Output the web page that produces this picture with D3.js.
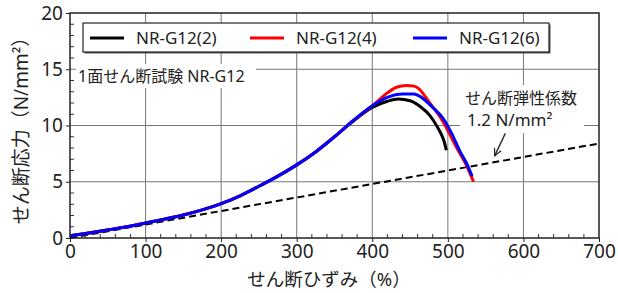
<!DOCTYPE html>
<html><head><meta charset="utf-8">
<script src="https://cdn.jsdelivr.net/npm/d3@7"></script>
<style>
html,body{margin:0;padding:0;background:#fff;}
svg{display:block;font-family:"Noto Sans","Noto Sans CJK JP",sans-serif;}
</style></head>
<body><svg id="c" width="618" height="293"></svg>
<script>
// ---- data ----
const seriesNames = ["NR-G12(2)", "NR-G12(4)", "NR-G12(6)"];
const seriesColors = ["#000000", "#ff0000", "#0000ff"];
const strain2 = [0,25,50,75,100,125,150,175,200,225,250,275,300,325,350,375,400,420,434,450,465,476,485,490,495,498];
const stress2 = [0.2,0.45,0.72,1.0,1.33,1.68,2.05,2.5,3.05,3.75,4.6,5.5,6.5,7.65,9.0,10.4,11.6,12.15,12.35,12.2,11.6,10.9,10.0,9.4,8.6,7.8];
const strain4 = [0,25,50,75,100,125,150,175,200,225,250,275,300,325,350,375,400,420,432,445,455,461,475,494,511,525,534];
const stress4 = [0.2,0.45,0.72,1.0,1.33,1.68,2.05,2.5,3.05,3.75,4.6,5.5,6.5,7.65,9.0,10.45,11.75,12.9,13.4,13.55,13.5,13.3,12.1,10.3,8.1,6.4,5.0];
const strain6 = [0,25,50,75,100,125,150,175,200,225,250,275,300,325,350,375,400,420,440,455,465,480,494,505,516,525,532];
const stress6 = [0.2,0.45,0.72,1.0,1.33,1.68,2.05,2.5,3.05,3.75,4.6,5.5,6.5,7.65,9.0,10.45,11.75,12.5,12.8,12.8,12.5,11.6,10.6,9.3,7.7,6.6,5.5];
const modulusStrain = [0, 700];
const modulusStress = [0, 8.4];
const xTicks = [0,100,200,300,400,500,600,700];
const yTicks = [0,5,10,15,20];
const xTitle = "せん断ひずみ（%）";
const yTitle = "せん断応力（N/mm²）";
const testLabel = "1面せん断試験 NR-G12";
const modLabel1 = "せん断弾性係数";
const modLabel2 = "1.2 N/mm²";
const arrowFrom = [576, 9.3];
const arrowTo = [562, 7.3];

// ---- layout ----
const L = 70, R = 599, T = 13, B = 238;
const svg = d3.select("#c");
const x = d3.scaleLinear().domain([0,700]).range([L,R]);
const y = d3.scaleLinear().domain([0,20]).range([B,T]);

// grid
svg.append("g").selectAll("line").data(xTicks.slice(1,-1)).join("line")
  .attr("x1", d=>x(d)).attr("x2", d=>x(d)).attr("y1", T).attr("y2", B)
  .attr("stroke", "#777").attr("stroke-width", 1);
svg.append("g").selectAll("line").data(yTicks.slice(1,-1)).join("line")
  .attr("y1", d=>y(d)).attr("y2", d=>y(d)).attr("x1", L).attr("x2", R)
  .attr("stroke", "#777").attr("stroke-width", 1);

// minor ticks (inward)
const xMinor = d3.range(0, 701, 20).filter(v => v % 100 !== 0);
const yMinor = d3.range(0, 21, 1).filter(v => v % 5 !== 0);
svg.append("g").selectAll("line").data(xMinor).join("line")
  .attr("x1", d=>x(d)).attr("x2", d=>x(d)).attr("y1", B).attr("y2", B-4)
  .attr("stroke", "#333").attr("stroke-width", 1);
svg.append("g").selectAll("line").data(yMinor).join("line")
  .attr("y1", d=>y(d)).attr("y2", d=>y(d)).attr("x1", L).attr("x2", L+4)
  .attr("stroke", "#333").attr("stroke-width", 1);

// axes
const xAxis = svg.append("g").attr("transform", `translate(0,${B})`)
  .call(d3.axisBottom(x).tickValues(xTicks).tickSize(4).tickPadding(2));
const yAxis = svg.append("g").attr("transform", `translate(${L},0)`)
  .call(d3.axisLeft(y).tickValues(yTicks).tickSize(4).tickPadding(3));
[xAxis, yAxis].forEach(a => {
  a.select(".domain").remove();
  a.selectAll("text").attr("font-size", 19).attr("fill", "#222")
    .attr("font-family", "Noto Sans, sans-serif");
  a.selectAll("line").attr("stroke", "#222");
});

// modulus dashed line
const line = d3.line().x(d=>x(d[0])).y(d=>y(d[1]));
svg.append("path").datum(d3.zip(modulusStrain, modulusStress))
  .attr("d", line).attr("fill", "none").attr("stroke", "#000")
  .attr("stroke-width", 2).attr("stroke-dasharray", "7,4");

// annotation boxes (white behind text)
svg.append("rect").attr("x", 76).attr("y", 64).attr("width", 180).attr("height", 24).attr("fill", "#fff");
svg.append("rect").attr("x", 460).attr("y", 85).attr("width", 124).attr("height", 48).attr("fill", "#fff");

// curves
const curve = d3.line().x(d=>x(d[0])).y(d=>y(d[1])).curve(d3.curveMonotoneX);
const seriesData = [d3.zip(strain2, stress2), d3.zip(strain4, stress4), d3.zip(strain6, stress6)];
seriesData.forEach((s, i) => {
  svg.append("path").datum(s).attr("d", curve).attr("fill", "none")
    .attr("stroke", seriesColors[i]).attr("stroke-width", 3)
    .attr("stroke-linejoin", "round");
});

// frame
svg.append("rect").attr("x", L).attr("y", T).attr("width", R-L).attr("height", B-T)
  .attr("fill", "none").attr("stroke", "#222").attr("stroke-width", 1.5);

// legend
const lg = svg.append("g");
lg.append("rect").attr("x", 84.5).attr("y", 24.5).attr("width", 466).attr("height", 29).attr("fill", "#555");
lg.append("rect").attr("x", 83).attr("y", 23).attr("width", 466).attr("height", 29)
  .attr("fill", "#fff").attr("stroke", "#222").attr("stroke-width", 1.2);
const lgX = [90, 250, 413];
seriesNames.forEach((n, i) => {
  lg.append("line").attr("x1", lgX[i]).attr("x2", lgX[i]+34).attr("y1", 38).attr("y2", 38)
    .attr("stroke", seriesColors[i]).attr("stroke-width", 3);
  lg.append("text").attr("x", lgX[i]+46).attr("y", 44).attr("font-size", 17)
    .attr("fill", "#222").text(n);
});

// texts
svg.append("text").attr("x", 78).attr("y", 82).attr("font-size", 16).attr("fill", "#222").text(testLabel);
svg.append("text").attr("x", 465).attr("y", 104).attr("font-size", 16).attr("fill", "#222").text(modLabel1);
svg.append("text").attr("x", 467).attr("y", 126).attr("font-size", 17).attr("fill", "#222").text(modLabel2);

// arrow
svg.append("defs").append("marker").attr("id", "ah").attr("viewBox", "0 0 10 10")
  .attr("refX", 9).attr("refY", 5).attr("markerWidth", 7).attr("markerHeight", 7)
  .attr("orient", "auto").append("path").attr("d", "M1,1 L9,5 L1,9").attr("fill", "none")
  .attr("stroke", "#222").attr("stroke-width", 1.3);
svg.append("line").attr("x1", x(arrowFrom[0])).attr("y1", y(arrowFrom[1]))
  .attr("x2", x(arrowTo[0])).attr("y2", y(arrowTo[1]))
  .attr("stroke", "#222").attr("stroke-width", 1.3).attr("marker-end", "url(#ah)");

// axis titles
svg.append("text").attr("x", 329).attr("y", 286).attr("text-anchor", "middle")
  .attr("font-size", 18.5).attr("fill", "#222").text(xTitle);
svg.append("text").attr("transform", "translate(28,126) rotate(-90)").attr("text-anchor", "middle")
  .attr("font-size", 19).attr("fill", "#222").text(yTitle);
</script></body></html>
